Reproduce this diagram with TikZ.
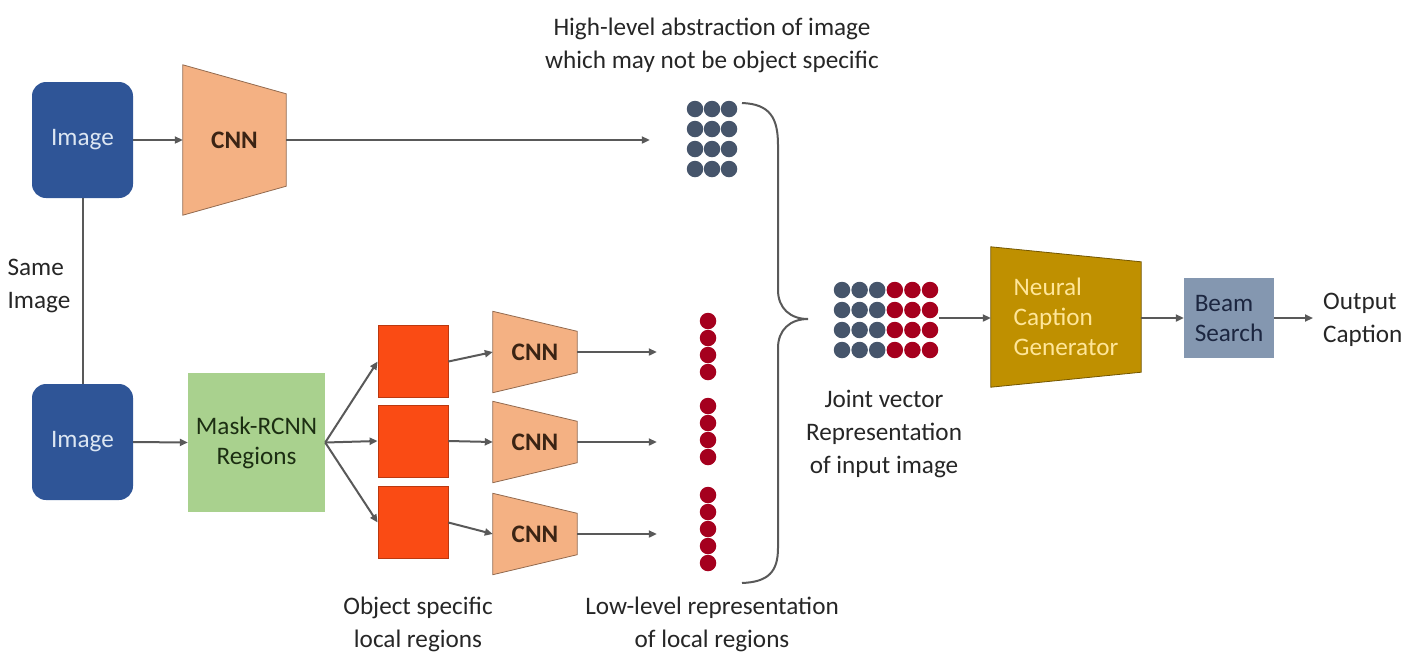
\documentclass[tikz,border=0pt]{standalone}
\usepackage{fontspec}
\setmainfont{Carlito}
\usetikzlibrary{arrows.meta,backgrounds}

\definecolor{imgblue}{HTML}{2F5597}
\definecolor{imgtext}{HTML}{DCE6F2}
\definecolor{cnnorange}{HTML}{F4B183}
\definecolor{cnntext}{HTML}{3B2414}
\definecolor{maskgreen}{HTML}{A9D18E}
\definecolor{masktext}{HTML}{1C2E12}
\definecolor{regionred}{HTML}{FA4B14}
\definecolor{neuralgold}{HTML}{BF9000}
\definecolor{neuraltext}{HTML}{FFE699}
\definecolor{beamblue}{HTML}{8497B0}
\definecolor{beamtext}{HTML}{1C2640}
\definecolor{dotgray}{HTML}{46556B}
\definecolor{dotred}{HTML}{A5001E}
\definecolor{linegray}{HTML}{595959}
\definecolor{labeltext}{HTML}{262626}

% trapezoid behind a node: wide on the left, narrower by #2 top and bottom on the right
\newcommand{\funnel}[3]{%
  \filldraw[fill=#3, draw=#3!60!black, line width=0.8pt]
    (#1.north west) -- ([yshift=-#2]#1.north east)
    -- ([yshift=#2]#1.south east) -- (#1.south west) -- cycle;}

\begin{document}
\begin{tikzpicture}[
   x=1pt, y=-1pt,
   font=\fontsize{25.2}{30}\selectfont,
   img/.style={rounded corners=14pt, fill=imgblue, text=imgtext, minimum width=101pt, minimum height=116pt},
   bigcnn/.style={minimum width=103pt, minimum height=150pt, text=cnntext, font=\fontsize{25.2}{30}\selectfont\bfseries},
   smallcnn/.style={minimum width=84pt, minimum height=81pt, text=cnntext, font=\fontsize{25.2}{30}\selectfont\bfseries},
   region/.style={fill=regionred, draw=regionred!75!black, line width=0.8pt, minimum width=70pt, minimum height=72pt},
   dot/.style={circle, inner sep=0pt, minimum size=16.5pt},
   label/.style={text=labeltext, align=center, font=\fontsize{25.2}{33}\selectfont},
   arrow/.style={-{Triangle[length=8pt,width=7pt]}, draw=linegray, line width=2pt},
   line/.style={-, draw=linegray, line width=2pt}
]
\useasboundingbox (0,0) rectangle (1421,657);

% Inputs
\node[img] (img1) at (82.5,140) {Image};
\node[img] (img2) at (82.5,442) {Image};
\node[label, align=left, anchor=west] (same) at (4,286) {Same\\Image};
\draw[line] (img1.south) -- (img2.north);

% Global branch
\node[bigcnn] (cnn) at (234.5,140) {CNN};
\draw[arrow] (img1.east) -- (cnn.west);

\foreach \r in {0,...,3}
  \foreach \c in {0,1,2}
    \node[dot, fill=dotgray] (hi-\r-\c) at (695+17*\c, 109+20*\r) {};
\node[minimum width=60pt, minimum height=80pt] (highvec) at (712,139) {};
\draw[arrow] (cnn.east) -- ([xshift=-32pt]highvec.west |- cnn.east);
\node[label] (highlbl) at (712,45) {High-level abstraction of image\\which may not be object specific};

% Region branch
\node[fill=maskgreen, text=masktext, align=center, minimum width=137pt, minimum height=139pt] (mask) at (256.5,442.5) {Mask-RCNN\\Regions};
\draw[arrow] (img2.east) -- (mask.west);

\node[region] (reg1) at (413,361.5) {};
\node[region] (reg2) at (413,441) {};
\node[region] (reg3) at (413,522.5) {};
\draw[arrow] (mask.east) -- (reg1.west);
\draw[arrow] (mask.east) -- (reg2.west);
\draw[arrow] (mask.east) -- (reg3.west);

\node[smallcnn] (cnn1) at (535,352) {CNN};
\node[smallcnn] (cnn2) at (535,442) {CNN};
\node[smallcnn] (cnn3) at (535,534) {CNN};
\draw[arrow] (reg1.east) -- (cnn1.west);
\draw[arrow] (reg2.east) -- (cnn2.west);
\draw[arrow] (reg3.east) -- (cnn3.west);

\foreach \y in {321,338,355,372, 406,423,440,457, 495,512,529,546,563}
  \node[dot, fill=dotred] (lo-\y) at (708,\y) {};
\node[minimum width=18pt, minimum height=260pt] (lowvec) at (708,442) {};
\foreach \n in {1,2,3}
  \draw[arrow, shorten >=42pt] (cnn\n.east) -- (cnn\n.east -| lowvec.west);

\node[label] (objlbl) at (418,624) {Object specific\\local regions};
\node[label] (lowlbl) at (712,624) {Low-level representation\\of local regions};

% Brace joining both vectors
\draw[line] (742,103) .. controls (770,104) and (778,118) .. (778,145)
  -- (778,290) .. controls (778,308) and (790,319) .. (808,319)
  .. controls (790,319) and (778,330) .. (778,348)
  -- (778,548) .. controls (778,572) and (768,582) .. (742,583);

% Joint vector
\foreach \r in {0,...,3}
  \foreach \c in {0,...,5} {
    \ifnum\c<3 \def\dotcol{dotgray}\else \def\dotcol{dotred}\fi
    \node[dot, fill=\dotcol] (jt-\r-\c) at (842+17.6*\c, 290+20*\r) {};
  }
\node[minimum width=106pt, minimum height=78pt] (joint) at (886,318) {};
\node[label] (jointlbl) at (884,434) {Joint vector\\Representation\\of input image};

% Decoder
\node[minimum width=150pt, minimum height=140pt, text=neuraltext, align=left] (neural) at (1066,317) {Neural\\Caption\\Generator};
\node[fill=beamblue, text=beamtext, align=left, minimum width=90pt, minimum height=80pt] (beam) at (1229,318) {Beam\\Search};
\node[label, align=left, anchor=west, inner xsep=10pt] (output) at (1313,320) {Output\\Caption};
\draw[arrow] (joint.east) -- (joint.east -| neural.west);
\draw[arrow] (neural.east |- beam.west) -- (beam.west);
\draw[arrow] (beam.east) -- (output.west |- beam.east);

\begin{scope}[on background layer]
  \funnel{cnn}{29pt}{cnnorange}
  \funnel{cnn1}{20pt}{cnnorange}
  \funnel{cnn2}{20pt}{cnnorange}
  \funnel{cnn3}{20pt}{cnnorange}
  \funnel{neural}{15pt}{neuralgold}
\end{scope}

\end{tikzpicture}
\end{document}
